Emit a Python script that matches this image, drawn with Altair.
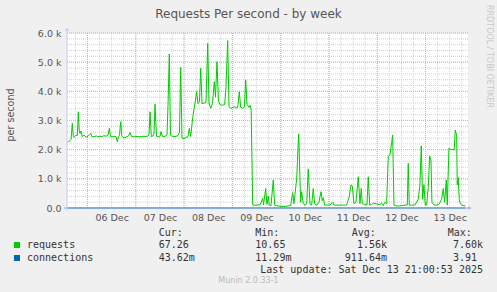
import json
import altair as alt
import pandas as pd

# ---- data (hours since 06 Dec 00:00, requests per second) ----
req_hours = [-10.0, -9.4, -8.7, -8.2, -7.55, -7.06, -6.71, -5.71, -5.07, -4.57, -4.07, -3.73, -3.23, -2.58,
             -1.74, -0.75, 0.25, 1.59, 2.24, 3.23, 4.57, 5.22, 6.21, 7.2, 8.2, 9.19, 10.19, 10.83, 11.43,
             12.17, 13.17, 14.16, 14.81, 15.4, 15.9, 16.5, 16.99, 17.64, 18.63, 19.63, 20.37, 21.12, 21.86,
             23.1, 24.6, 26.09, 27.58, 29.07, 30.06, 30.56, 31.06, 31.7, 32.55, 33.04, 33.54, 34.29, 35.28,
             36.03, 36.52, 37.27, 38.51, 39.5, 40.0, 40.65, 41.24, 41.99, 43.48, 44.97, 45.71, 46.31, 46.96,
             47.95, 48.94, 49.94, 50.58, 51.28, 52.27, 53.42, 54.26, 54.91, 55.65, 56.25, 56.9, 57.89, 58.88,
             59.73, 60.37, 61.22, 62.11, 63.01, 63.6, 64.35, 65.09, 65.84, 67.08, 68.17, 68.82, 69.66, 70.31,
             71.16, 72.3, 73.29, 74.29, 74.78, 75.43, 76.12, 77.12, 78.01, 78.61, 79.26, 80.25, 80.89, 81.34,
             82.09,
             82.73, 83.73, 84.72, 85.72, 87.06, 87.45, 88.55, 89.19, 89.84, 90.34, 91.18, 92.32, 93.02, 94.01,
             95.65, 97.29, 98.98, 100.97, 101.96, 102.61, 103.95, 104.94, 105.59, 105.94, 106.44, 107.23,
             108.08, 108.92, 109.71, 110.56, 111.4, 112.2, 112.9, 113.89, 115.03, 116.03, 116.67, 117.17,
             117.86, 119.01, 120.5, 121.84, 122.49, 123.98, 125.47, 126.96, 128.8, 130.09, 130.93, 131.58,
             132.42, 133.42, 134.56, 135.41, 136.05, 136.55, 137.89, 138.88, 139.53, 140.22, 141.22, 142.01,
             143.7, 145.34, 146.19, 146.98, 147.83, 148.67, 149.47, 150.31, 151.16, 151.65, 152.3, 153.64,
             155.28, 157.77, 158.91, 159.41, 159.9, 161.09, 162.73, 164.37, 165.22, 165.87, 166.56, 167.21,
             167.85, 168.55, 169.34, 170.04, 170.68, 171.18, 172.17, 173.52, 174.81, 176.0, 176.8, 177.49,
             178.29, 178.79, 179.63, 180.62, 181.62, 182.26, 182.76, 183.46, 183.75, 184.25, 184.75, 185.24,
             186.09, 187.08, 187.83]
req_values = [2250, 2280, 2310, 2350, 2900, 2450, 2420, 2500, 2480, 3300, 2600, 2560, 2640, 2450,
              2500, 2420, 2460, 2560, 2440, 2450, 2470, 2440, 2460, 2450, 2480, 2460, 2500, 2730, 2450,
              2440, 2460, 2450, 2270, 2450, 2500, 2960, 2480, 2420, 2400, 2450, 2470, 2590, 2460,
              2440, 2450, 2440, 2460, 2450, 2470, 2500, 3300, 2450, 2470, 2550, 3560, 2460, 2440,
              2450, 2620, 2450, 2460, 2500, 3500, 5280, 2500, 2460, 2450, 2480, 2600, 4820, 2400,
              2380, 2420, 2450, 2730, 2450, 3100, 3600, 3990, 3580, 3650, 4790, 3580, 3600, 3620,
              5650, 3600, 3420, 3580, 4330, 3800, 5020, 3650, 3550, 3520, 3550, 4160, 5740, 3470,
              3420, 3450, 3470, 3420, 3520, 3990, 3450, 3420, 3470, 4390, 3550, 3450, 3520, 3350,
              110,
              100, 90, 110, 100, 330, 100, 670, 120, 410, 100, 80, 960, 100, 80,
              60, 50, 60, 90, 530, 150, 1000, 2540, 1000, 200, 560, 150,
              100, 140, 1340, 140, 100, 670, 140, 100, 200, 560, 250, 350,
              100, 100, 100, 200, 100, 100, 100, 100, 100, 400, 790, 760,
              150, 200, 1070, 150, 670, 150, 120, 100, 1070, 100, 120, 170,
              140, 120, 170, 80, 200, 150, 1780, 1820, 2250, 2500, 100, 70,
              70, 100, 100, 1530, 100, 100, 100, 300, 790, 2130, 300, 800,
              100, 100, 700, 1780, 1650, 200, 100, 100, 140, 300, 670, 200,
              960, 100, 2050, 2000, 2000, 1990, 2670, 2500, 790, 1050, 300, 150,
              100, 80, 70]

conn_hours = [-10.0, 12.0, 36.0, 60.0, 84.0, 108.0, 132.0, 156.0, 180.0, 187.83]
conn_values = [0.9, 0.9, 1.1, 1.2, 0.8, 0.8, 0.9, 0.8, 0.9, 0.04]

day_labels = ["06 Dec", "07 Dec", "08 Dec", "09 Dec", "10 Dec", "11 Dec", "12 Dec", "13 Dec"]
day_label_hours = [12, 36, 60, 84, 108, 132, 156, 180]
y_ticks = [0, 1000, 2000, 3000, 4000, 5000, 6000]

legend_names = ["requests", "connections"]
legend_colors = ["#00cc00", "#0066b3"]
legend_cur = ["67.26", "43.62m"]
legend_min = ["10.65", "11.29m"]
legend_avg = ["1.56k", "911.64m"]
legend_max = ["7.60k", "3.91"]

X0, X1 = -10.2, 189.1
W, H = 401, 175
PL, PT = 67, 33

xs = alt.Scale(domain=[X0, X1], nice=False, zero=False)
ys = alt.Scale(domain=[0, 6000], nice=False)

label_expr = "%s[floor(datum.value/24)]" % json.dumps(day_labels)
XAX = alt.Axis(values=day_label_hours, labelExpr=label_expr, grid=False, domain=False,
               ticks=False, labelPadding=4, labelFont="DejaVu Sans", labelFontSize=9.5,
               labelColor="#555555", title=None)
YAX = alt.Axis(values=y_ticks,
               labelExpr="datum.value == 0 ? '0.0' : format(datum.value/1000, '.1f') + ' k'",
               grid=False, domain=False, ticks=False, labelPadding=6,
               labelFont="DejaVu Sans", labelFontSize=9.5, labelColor="#555555", title=None)


def X(f="h:Q"):
    return alt.X(f, scale=xs, axis=XAX)


def Y(f="v:Q"):
    return alt.Y(f, scale=ys, axis=YAX)


req_df = pd.DataFrame({"h": req_hours, "v": req_values})
conn_df = pd.DataFrame({"h": conn_hours, "v": conn_values})

minor_x = pd.DataFrame({"h": list(range(-6, 189, 6))})
major_x = pd.DataFrame({"h": list(range(0, 189, 24))})
minor_y = pd.DataFrame({"v": list(range(200, 6001, 200))})
major_y = pd.DataFrame({"v": y_ticks[1:]})

grid_minor_c = "#d2d2d2"
grid_major_c = "#f2a0a0"

g1 = alt.Chart(minor_x).mark_rule(color=grid_minor_c, strokeDash=[1, 1], strokeWidth=1).encode(x=X())
g2 = alt.Chart(minor_y).mark_rule(color=grid_minor_c, strokeDash=[1, 1], strokeWidth=1).encode(y=Y())
g3 = alt.Chart(major_x).mark_rule(color=grid_major_c, strokeDash=[1, 1], strokeWidth=1).encode(x=X())
g4 = alt.Chart(major_y).mark_rule(color=grid_major_c, strokeDash=[1, 1], strokeWidth=1).encode(y=Y())

req_line = alt.Chart(req_df).mark_line(color="#00cc00", strokeWidth=1, clip=True).encode(x=X(), y=Y())
conn_line = alt.Chart(conn_df).mark_line(color="#0066b3", strokeWidth=1).encode(x=X(), y=Y())

ax_c = "#a9bbe8"
one = pd.DataFrame({"a": [0]})
x_axis_line = alt.Chart(one).mark_rule(color="#8eaae2", strokeWidth=1).encode(
    x=alt.value(-3), x2=alt.value(W + 2), y=alt.value(H))
y_axis_line = alt.Chart(one).mark_rule(color="#c3cff2", strokeWidth=1).encode(
    x=alt.value(0), y=alt.value(-4), y2=alt.value(H + 3))
arrow_up = alt.Chart(one).mark_point(shape="triangle-up", filled=True, size=18,
                                     color="#c3cff2", opacity=1).encode(x=alt.value(0), y=alt.value(-4))
arrow_right = alt.Chart(one).mark_point(shape="triangle-right", filled=True, size=18,
                                        color=ax_c, opacity=1).encode(x=alt.value(W + 2), y=alt.value(H))


def txt(s, x, y, size=10, font="DejaVu Sans Mono", color="#333333", align="left", angle=0):
    return alt.Chart(pd.DataFrame({"t": [s]})).mark_text(
        font=font, fontSize=size, color=color, align=align, baseline="middle", angle=angle).encode(
        text="t:N", x=alt.value(x - PL), y=alt.value(y - PT))


texts = [
    txt("Requests Per second - by week", 248.5, 14, size=12, font="DejaVu Sans", color="#555555", align="center"),
    txt("per second", 11, 115, size=9.6, font="DejaVu Sans", color="#555555", align="center", angle=270),
    txt("RRDTOOL / TOBI OETIKER", 489, 56.5, size=8, font="DejaVu Sans", color="#c8c8c8", align="center", angle=90),
    txt("Cur:", 158.7, 233),
    txt("Min:", 255.3, 233),
    txt("Avg:", 351.7, 233),
    txt("Max:", 447.7, 233),
    txt("Last update: Sat Dec 13 21:00:53 2025", 483, 270, align="right"),
    txt("Munin 2.0.33-1", 248.5, 281, size=8, font="DejaVu Sans", color="#bbbbbb", align="center"),
]
row_y = [245, 258]
for i in range(2):
    texts.append(txt(legend_names[i], 27, row_y[i]))
    texts.append(txt(legend_cur[i], 158.7, row_y[i]))
    texts.append(txt(legend_min[i], 255.3, row_y[i]))
    texts.append(txt(legend_avg[i], 387, row_y[i], align="right"))
    texts.append(txt(legend_max[i], 483 if i == 0 else 477, row_y[i], align="right"))
    texts.append(alt.Chart(one).mark_rect(color=legend_colors[i]).encode(
        x=alt.value(14 - PL), x2=alt.value(20 - PL), y=alt.value(row_y[i] - 3 - PT),
        y2=alt.value(row_y[i] + 3 - PT)))

chart = alt.layer(g1, g2, g3, g4, req_line, conn_line, x_axis_line, y_axis_line, arrow_up, arrow_right,
                  *texts).properties(
    width=W, height=H,
    autosize=alt.AutoSizeParams(type="none"),
    padding={"left": PL, "top": PT, "right": 497 - PL - W, "bottom": 292 - PT - H},
    background="#f0f0f0",
).configure_view(fill="white", stroke=None)

chart.save("out.html", embed_options={"renderer": "svg", "actions": False})
